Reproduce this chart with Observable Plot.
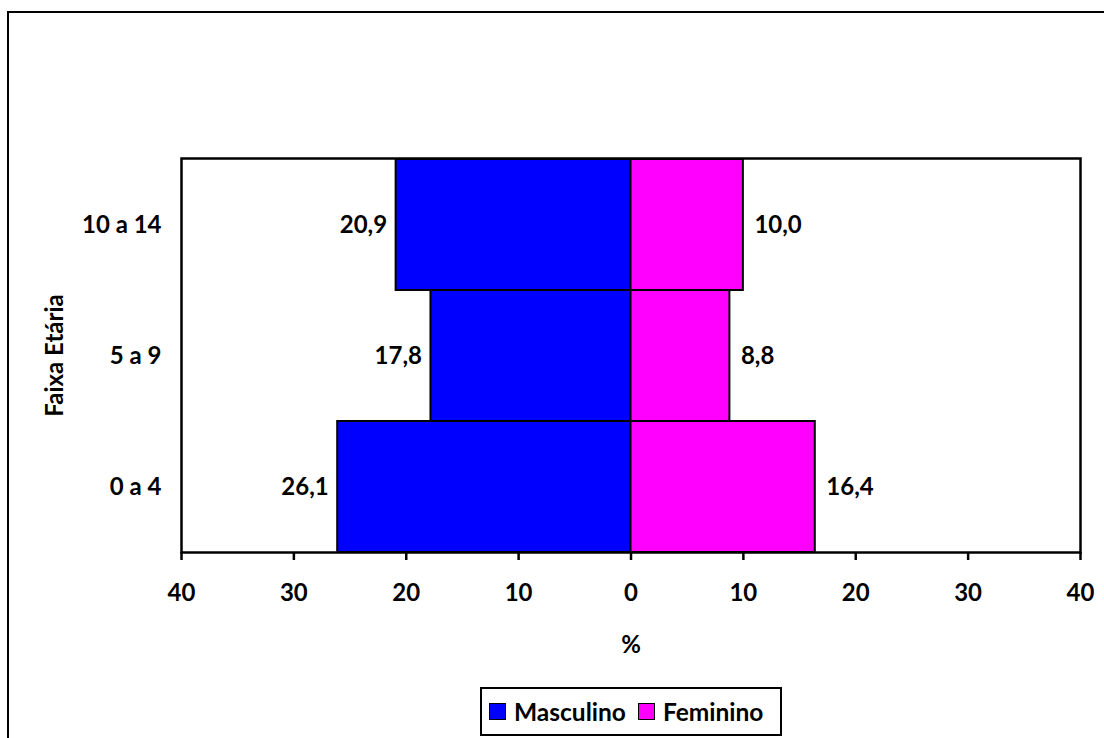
<!DOCTYPE html>
<html>
<head>
<meta charset="utf-8">
<script src="https://cdn.jsdelivr.net/npm/d3@7"></script>
<script src="https://cdn.jsdelivr.net/npm/@observablehq/plot@0.6"></script>
<style>
  html, body { margin: 0; padding: 0; background: #fff; overflow: hidden; }
  #wrap { position: relative; width: 1104px; height: 738px; font-family: Lato, "Open Sans", sans-serif; }
  #frame { position: absolute; left: 7px; top: 11px; width: 1120px; height: 760px; border: 2.5px solid #000; box-sizing: border-box; pointer-events: none; }
  #chart { position: absolute; left: 0; top: 0; }
  #legend { position: absolute; left: 480px; top: 687px; width: 302px; height: 49px; box-sizing: border-box;
            border: 2px solid #000; display: flex; align-items: center; padding-left: 7px;
            font-weight: 700; font-size: 24.5px; color: #000; }
  .sw { display: inline-block; width: 17px; height: 17px; border: 1.5px solid #000; margin-right: 8px; box-sizing: border-box; }
  .item { display: flex; align-items: center; margin-right: 12px; }
</style>
</head>
<body>
<div id="wrap">
  <div id="chart"></div>
  <div id="frame"></div>
  <div id="legend"></div>
</div>
<script>
// Age groups, top to bottom
const ageGroups = ["10 a 14", "5 a 9", "0 a 4"];
// Share of population (%) per age group
const masculino = [20.9, 17.8, 26.1];
const feminino = [10.0, 8.8, 16.4];
const xTicks = [-40, -30, -20, -10, 0, 10, 20, 30, 40];

const colors = { Masculino: "#0000ff", Feminino: "#ff00ff" };

const male = ageGroups.map((g, i) => ({ group: g, sex: "Masculino", value: masculino[i], signed: -masculino[i] }));
const female = ageGroups.map((g, i) => ({ group: g, sex: "Feminino", value: feminino[i], signed: feminino[i] }));
const rows = [...male, ...female];

const fmt = v => v.toFixed(1).replace(".", ",");

const FS = 24;

const chart = Plot.plot({
  width: 1104,
  height: 738,
  marginLeft: 181,
  marginRight: 24,
  marginTop: 158,
  marginBottom: 186,
  style: { fontFamily: "Lato, 'Open Sans', sans-serif", fontWeight: 700, fontSize: FS + "px", color: "#000", background: "transparent" },
  x: { domain: [-40, 40], ticks: xTicks, tickFormat: d => Math.abs(d), label: null },
  y: { domain: ageGroups, padding: 0, label: null },
  marks: [
    Plot.barX(rows, {
      y: "group", x1: 0, x2: "signed",
      fill: d => colors[d.sex], stroke: "#000", strokeWidth: 2
    }),
    Plot.frame({ stroke: "#000", strokeWidth: 2.5 }),
    Plot.axisX({ ticks: xTicks, tickFormat: d => Math.abs(d), tickSize: 8, tickPadding: 23, strokeWidth: 2.5, fontSize: FS,
                 label: "%", labelAnchor: "center", labelArrow: "none", labelOffset: 100 }),
    Plot.axisY({ tickSize: 0, tickPadding: 20, fontSize: FS,
                 label: "Faixa Etária", labelAnchor: "center", labelArrow: "none", labelOffset: 136 }),
    // value labels at the bar ends
    Plot.text(male, {
      y: "group", x: "signed", text: d => fmt(d.value),
      textAnchor: "end", dx: -9,
      fontSize: FS, fontWeight: 700, fill: "#000"
    }),
    Plot.text(female, {
      y: "group", x: "signed", text: d => fmt(d.value),
      textAnchor: "start", dx: 11,
      fontSize: FS, fontWeight: 700, fill: "#000"
    })
  ]
});
document.getElementById("chart").appendChild(chart);

// Legend
const legend = document.getElementById("legend");
for (const name of ["Masculino", "Feminino"]) {
  const item = document.createElement("span");
  item.className = "item";
  const sw = document.createElement("span");
  sw.className = "sw";
  sw.style.background = colors[name];
  item.appendChild(sw);
  item.appendChild(document.createTextNode(name));
  legend.appendChild(item);
}
</script>
</body>
</html>
